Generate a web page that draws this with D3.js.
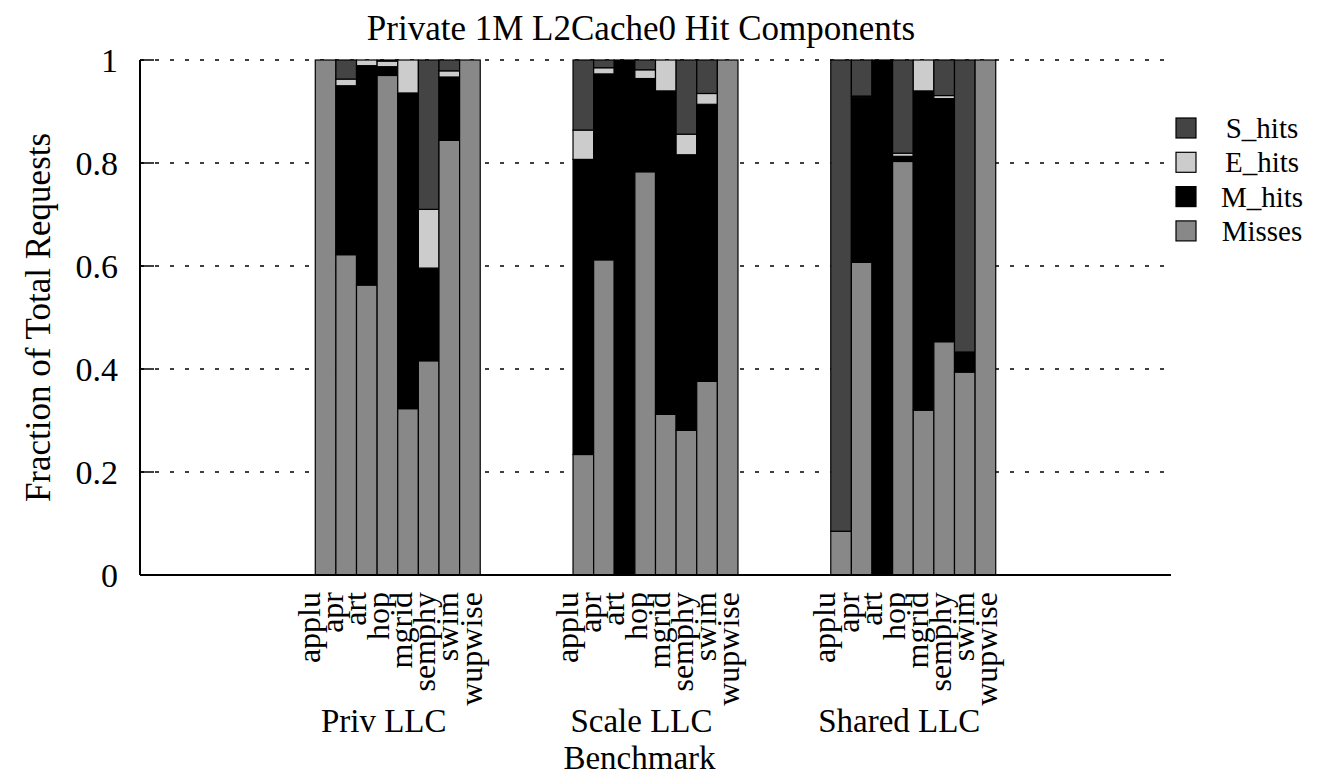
<!DOCTYPE html>
<html>
<head>
<meta charset="utf-8">
<script src="https://cdn.jsdelivr.net/npm/d3@7"></script>
<style>
  html, body { margin: 0; padding: 0; background: #fff; }
  svg { display: block; }
  text { font-family: "Liberation Serif", "Times New Roman", serif; fill: #000; }
</style>
</head>
<body>
<svg id="chart" width="1319" height="780"></svg>
<script>
// Benchmarks inside each LLC configuration
const benchmarks = ["applu", "apr", "art", "hop", "mgrid", "semphy", "swim", "wupwise"];
const configs = ["Priv LLC", "Scale LLC", "Shared LLC"];
const yTicks = [0, 0.2, 0.4, 0.6, 0.8, 1];

// Fractions of total requests, one value per benchmark, per configuration
const missesPriv   = [1.000, 0.622, 0.563, 0.970, 0.323, 0.416, 0.844, 1.000];
const mHitsPriv    = [0.000, 0.328, 0.426, 0.017, 0.613, 0.180, 0.123, 0.000];
const eHitsPriv    = [0.000, 0.013, 0.011, 0.011, 0.064, 0.114, 0.012, 0.000];
const sHitsPriv    = [0.000, 0.037, 0.000, 0.002, 0.000, 0.290, 0.021, 0.000];

const missesScale  = [0.234, 0.612, 0.000, 0.783, 0.312, 0.281, 0.376, 1.000];
const mHitsScale   = [0.573, 0.361, 1.000, 0.181, 0.628, 0.535, 0.538, 0.000];
const eHitsScale   = [0.057, 0.012, 0.000, 0.017, 0.060, 0.040, 0.021, 0.000];
const sHitsScale   = [0.136, 0.015, 0.000, 0.019, 0.000, 0.144, 0.065, 0.000];

const missesShared = [0.085, 0.607, 0.000, 0.803, 0.320, 0.453, 0.394, 1.000];
const mHitsShared  = [0.000, 0.321, 1.000, 0.010, 0.620, 0.472, 0.039, 0.000];
const eHitsShared  = [0.000, 0.002, 0.000, 0.006, 0.060, 0.006, 0.000, 0.000];
const sHitsShared  = [0.915, 0.070, 0.000, 0.181, 0.000, 0.069, 0.567, 0.000];

// Series, bottom of the stack first
const seriesNames = ["Misses", "M_hits", "E_hits", "S_hits"];
const seriesColors = ["#888888", "#000000", "#cccccc", "#444444"];
const seriesData = [
  [missesPriv, missesScale, missesShared],
  [mHitsPriv, mHitsScale, mHitsShared],
  [eHitsPriv, eHitsScale, eHitsShared],
  [sHitsPriv, sHitsScale, sHitsShared]
];

const svg = d3.select("#chart");
const plot = { left: 140, right: 1171, top: 60, bottom: 575 };

// x in bar-width units; each cluster of 8 bars starts 12.5 units after the previous one
const x = d3.scaleLinear().domain([0, 50]).range([plot.left, plot.right]);
const y = d3.scaleLinear().domain([0, 1]).range([plot.bottom, plot.top]);
const firstStart = 8.5, clusterStride = 12.5;
const barStart = (g, i) => firstStart + g * clusterStride + i;
const clusterMid = g => barStart(g, 4);

// Dotted horizontal grid
svg.append("g").selectAll("line").data(yTicks.filter(d => d > 0)).join("line")
  .attr("x1", plot.left).attr("x2", plot.right)
  .attr("y1", d => y(d)).attr("y2", d => y(d))
  .attr("stroke", "#000").attr("stroke-width", 1.5)
  .attr("stroke-dasharray", "4,11");

// Build stacked rows
const rows = [];
configs.forEach((c, g) => {
  benchmarks.forEach((b, i) => {
    let base = 0;
    seriesNames.forEach((s, k) => {
      const v = seriesData[k][g][i];
      if (v > 0) rows.push({ g, i, k, y0: base, y1: base + v });
      base += v;
    });
  });
});

svg.append("g").selectAll("rect").data(rows).join("rect")
  .attr("x", d => x(barStart(d.g, d.i)))
  .attr("width", d => x(barStart(d.g, d.i) + 1) - x(barStart(d.g, d.i)))
  .attr("y", d => y(d.y1))
  .attr("height", d => y(d.y0) - y(d.y1))
  .attr("fill", d => seriesColors[d.k])
  .attr("stroke", "#000").attr("stroke-width", 1.2);

// Axis lines
svg.append("line").attr("x1", plot.left).attr("x2", plot.left)
  .attr("y1", plot.top).attr("y2", plot.bottom)
  .attr("stroke", "#000").attr("stroke-width", 2);
svg.append("line").attr("x1", plot.left).attr("x2", plot.right)
  .attr("y1", plot.bottom).attr("y2", plot.bottom)
  .attr("stroke", "#000").attr("stroke-width", 2);

// Y ticks (inward) and labels
svg.append("g").selectAll("line").data(yTicks).join("line")
  .attr("x1", plot.left).attr("x2", plot.left + 14)
  .attr("y1", d => y(d)).attr("y2", d => y(d))
  .attr("stroke", "#000").attr("stroke-width", 1.5);
svg.append("g").selectAll("text").data(yTicks).join("text")
  .attr("x", 118).attr("y", d => y(d))
  .attr("dy", "0.35em")
  .attr("text-anchor", "end")
  .style("font-size", "34px")
  .text(d => d3.format("")(d));

// Rotated benchmark labels, fanned slightly wider than the bars
const labelStep = 1.12;
const labels = [];
configs.forEach((c, g) => benchmarks.forEach((b, i) => labels.push({ g, i, b })));
svg.append("g").selectAll("text").data(labels).join("text")
  .attr("transform", d => {
    const cx = x(clusterMid(d.g) + (d.i - 3.5) * labelStep) - 7;
    return `translate(${cx + 10},592) rotate(-90)`;
  })
  .attr("text-anchor", "end")
  .style("font-size", "32px")
  .text(d => d.b);

// Cluster titles
svg.append("g").selectAll("text").data(configs).join("text")
  .attr("x", (d, g) => x(clusterMid(g)) - 14)
  .attr("y", 732)
  .attr("text-anchor", "middle")
  .style("font-size", "33px")
  .text(d => d);

// Axis titles and chart title
svg.append("text")
  .attr("x", x(clusterMid(1)) - 16).attr("y", 769)
  .attr("text-anchor", "middle").style("font-size", "33px")
  .text("Benchmark");
svg.append("text")
  .attr("transform", `translate(50,${(plot.top + plot.bottom) / 2}) rotate(-90)`)
  .attr("text-anchor", "middle").style("font-size", "35px")
  .text("Fraction of Total Requests");
svg.append("text")
  .attr("x", 641).attr("y", 40)
  .attr("text-anchor", "middle").style("font-size", "35px")
  .text("Private 1M L2Cache0 Hit Components");

// Legend, top entry first
const legendOrder = [3, 2, 1, 0];
const legend = svg.append("g").selectAll("g").data(legendOrder).join("g")
  .attr("transform", (k, j) => `translate(1176,${128 + j * 34.3})`);
legend.append("rect")
  .attr("x", 0).attr("y", -10).attr("width", 20).attr("height", 20)
  .attr("fill", k => seriesColors[k]).attr("stroke", "#000").attr("stroke-width", 1.2);
legend.append("text")
  .attr("x", 86).attr("dy", "0.35em").attr("text-anchor", "middle")
  .style("font-size", "29px")
  .text(k => seriesNames[k]);
</script>
</body>
</html>
